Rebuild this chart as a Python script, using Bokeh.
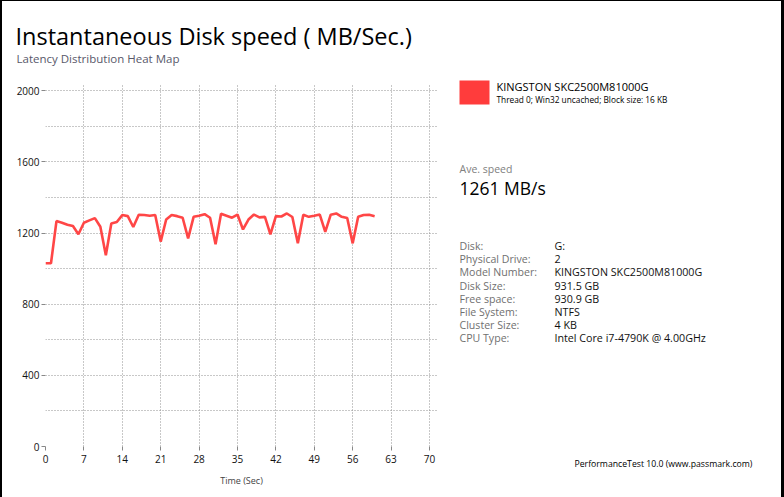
from bokeh.plotting import figure
from bokeh.models import Label, FixedTicker, Range1d
from bokeh.layouts import column, row
from bokeh.embed import file_html
from bokeh.resources import INLINE

# ---- data ----
time_sec = list(range(0, 61))
speed_mbs = [1030, 1030, 1267, 1258, 1247, 1239, 1193, 1258, 1271, 1284,
             1235, 1075, 1254, 1262, 1301, 1295, 1234, 1303, 1301, 1297,
             1301, 1152, 1276, 1301, 1295, 1286, 1170, 1291, 1297, 1306,
             1286, 1137, 1308, 1297, 1286, 1304, 1220, 1276, 1304, 1288,
             1291, 1193, 1295, 1293, 1310, 1290, 1142, 1303, 1291, 1297,
             1304, 1206, 1303, 1310, 1291, 1284, 1142, 1291, 1301, 1303, 1295]
x_ticks = [0, 7, 14, 21, 28, 35, 42, 49, 56, 63, 70]
y_ticks = [0, 400, 800, 1200, 1600, 2000]
y_minor = [200, 600, 1000, 1400, 1800]

title_text = "Instantaneous Disk speed ( MB/Sec.)"
subtitle_text = "Latency Distribution Heat Map"
series_name = "KINGSTON SKC2500M81000G"
series_desc = "Thread 0; Win32 uncached; Block size: 16 KB"
avg_label = "Ave. speed"
avg_value = "1261 MB/s"
info_keys = ["Disk:", "Physical Drive:", "Model Number:", "Disk Size:",
             "Free space:", "File System:", "Cluster Size:", "CPU Type:"]
info_vals = ["G:", "2", "KINGSTON SKC2500M81000G", "931.5 GB", "930.9 GB",
             "NTFS", "4 KB", "Intel Core i7-4790K @ 4.00GHz"]
footer_text = "PerformanceTest 10.0 (www.passmark.com)"
x_label = "Time (Sec)"

RED = "#ff3c3c"
FONT = "Open Sans"

# page layout (page pixel coordinates): border left 2px, top 1px, right 3px
L, T, R = 2, 1, 781
HEAD_B = 76
SPLIT = 450
BOTTOM = 497


def panel(x0, x1, y0, y1):
    f = figure(width=x1 - x0, height=y1 - y0, output_backend="svg", toolbar_location=None,
               title_location=None,
               x_range=Range1d(x0, x1), y_range=Range1d(y1, y0),
               min_border=0, min_border_left=0, min_border_right=0,
               min_border_top=0, min_border_bottom=0,
               x_axis_location=None, y_axis_location=None)
    f.grid.visible = False
    f.outline_line_color = None
    return f


def lab(f, text, x, y, size, color="#000000"):
    f.add_layout(Label(x=x, y=y, text=text, text_font=FONT, text_font_size=size,
                       text_color=color, text_baseline="middle", text_align="left"))


head = panel(L, R, T, HEAD_B)
lab(head, title_text, 15, 35, "23.5px")
lab(head, subtitle_text, 16, 57.7, "11.5px", "#58586a")

# ---- chart ----
chart = figure(width=SPLIT - L, height=BOTTOM - HEAD_B, output_backend="svg",
               toolbar_location=None, title_location=None,
               x_range=Range1d(0, 71.46), y_range=Range1d(0, 2035),
               min_border_left=45 - L, min_border_right=SPLIT - 437,
               min_border_top=84 - HEAD_B, min_border_bottom=BOTTOM - 446)
chart.outline_line_color = None
chart.line(time_sec, speed_mbs, line_color=RED, line_width=2.6, line_alpha=0.95)

for ax in (chart.xaxis[0], chart.yaxis[0]):
    ax.axis_line_color = None
    ax.major_tick_line_color = "#888888"
    ax.major_tick_in = 0
    ax.major_tick_out = 4
    ax.minor_tick_line_color = None
    ax.major_label_text_font = FONT
    ax.major_label_text_font_size = "10px"
    ax.major_label_text_color = "#111111"

chart.xaxis.ticker = FixedTicker(ticks=x_ticks)
chart.yaxis.ticker = FixedTicker(ticks=y_ticks, minor_ticks=y_minor)
chart.yaxis.major_label_standoff = 2
chart.xaxis.major_label_standoff = 4
chart.xaxis.axis_label = x_label
chart.xaxis.axis_label_text_font = FONT
chart.xaxis.axis_label_text_font_style = "normal"
chart.xaxis.axis_label_text_font_size = "9px"
chart.xaxis.axis_label_standoff = 8

for g in (chart.xgrid[0], chart.ygrid[0]):
    g.grid_line_color = "#909090"
    g.grid_line_dash = "1 2"
    g.grid_line_width = 1
chart.ygrid.minor_grid_line_color = "#909090"
chart.ygrid.minor_grid_line_dash = "1 2"

# ---- side panel ----
side = panel(SPLIT, R, HEAD_B, BOTTOM)
side.quad(left=[459], right=[489], top=[80], bottom=[104], fill_color=RED, line_color=None)
lab(side, series_name, 496, 85.5, "11px")
lab(side, series_desc, 496, 99.3, "8.3px")
lab(side, avg_label, 459, 168, "10.5px", "#808080")
lab(side, avg_value, 459, 187, "17.5px")
for i, (k, v) in enumerate(zip(info_keys, info_vals)):
    yc = 245.8 + i * 13.07
    lab(side, k, 459, yc, "10.6px", "#707070")
    lab(side, v, 554, yc, "10.7px", "#111111")
lab(side, footer_text, 574, 463, "8.7px")

layout = column(head, row(column(chart), column(side)),
                styles={"border-left": "2px solid black", "border-top": "1px solid black",
                        "border-right": "3px solid black"})
open("out.html", "w").write(file_html(layout, INLINE))
